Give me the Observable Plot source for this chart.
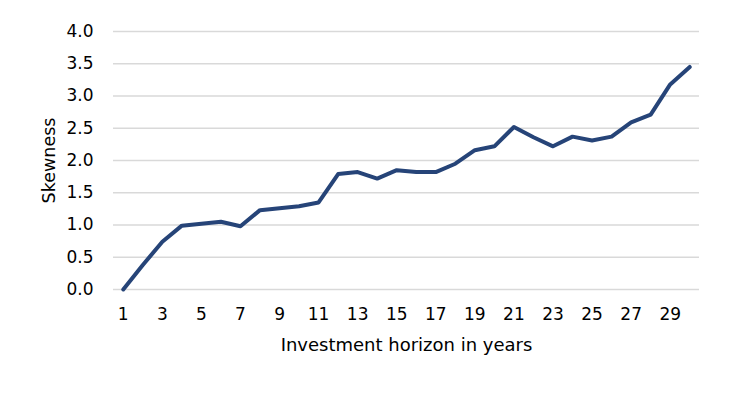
<!DOCTYPE html>
<html>
<head>
<meta charset="utf-8">
<script src="https://cdn.jsdelivr.net/npm/d3@7"></script>
<script src="https://cdn.jsdelivr.net/npm/@observablehq/plot@0.6"></script>
<style>
  html, body { margin: 0; padding: 0; background: #fff; }
  #chart svg { display: block; }
</style>
</head>
<body>
<div id="chart"></div>
<script>
const years = [1,2,3,4,5,6,7,8,9,10,11,12,13,14,15,16,17,18,19,20,21,22,23,24,25,26,27,28,29,30];
const skewness = [0.00,0.38,0.74,0.99,1.02,1.05,0.98,1.23,1.26,1.29,1.35,1.79,1.82,1.72,1.85,1.82,1.82,1.95,2.16,2.22,2.52,2.36,2.22,2.37,2.31,2.37,2.59,2.71,3.18,3.45];
const yTicks = [0, 0.5, 1, 1.5, 2, 2.5, 3, 3.5, 4];
const xTicks = [1,3,5,7,9,11,13,15,17,19,21,23,25,27,29];
const xLabel = "Investment horizon in years";
const yLabel = "Skewness";

const data = years.map((y, i) => ({year: y, skew: skewness[i]}));

const chart = Plot.plot({
  width: 742,
  height: 398,
  marginLeft: 113,
  marginRight: 43,
  marginTop: 31,
  marginBottom: 109,
  style: {fontFamily: "DejaVu Sans, Verdana, sans-serif", fontSize: "17px", color: "#000", background: "#fff"},
  x: {domain: [0.5, 30.5]},
  y: {domain: [0, 4]},
  marks: [
    Plot.ruleY(yTicks, {stroke: "#d9d9d9", strokeWidth: 1.5}),
    Plot.axisY({ticks: yTicks, tickSize: 0, tickPadding: 20, tickFormat: d3.format(".1f"), fontSize: 17, label: null}),
    Plot.axisY({ticks: [], tickSize: 0, fontSize: 17.5, label: yLabel, labelAnchor: "center", labelOffset: 71, labelArrow: "none"}),
    Plot.axisX({ticks: xTicks, tickSize: 0, tickPadding: 18, tickFormat: d => String(d), fontSize: 17, label: null}),
    Plot.axisX({ticks: [], tickSize: 0, fontSize: 18, label: xLabel, labelAnchor: "center", labelOffset: 61, labelArrow: "none"}),
    Plot.line(data, {x: "year", y: "skew", stroke: "#264478", strokeWidth: 4, strokeLinejoin: "round", strokeLinecap: "round"})
  ]
});
document.getElementById("chart").appendChild(chart);
</script>
</body>
</html>
